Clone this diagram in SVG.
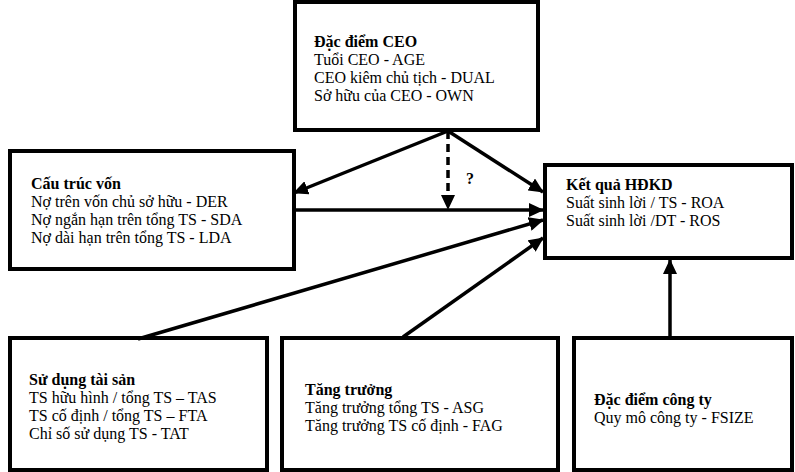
<svg xmlns="http://www.w3.org/2000/svg" width="795" height="472" viewBox="0 0 795 472">
<defs>
<style>
.box{fill:#fff;stroke:#000;stroke-width:4}
.t{font-family:"Liberation Serif","Times New Roman",serif;font-size:16px;fill:#000}
.b{font-weight:bold}
.c{fill:none;stroke:#000;stroke-width:3.5}
.d{stroke-dasharray:8 5}
</style>
<marker id="ah" markerUnits="userSpaceOnUse" markerWidth="15" markerHeight="14" refX="14" refY="7" orient="auto">
<path d="M0,0 L15,7 L0,14 z" fill="#000"/>
</marker>
</defs>
<rect width="795" height="472" fill="#fff"/>
<g id="ceo">
<rect class="box" x="295" y="2" width="243" height="128"/>
<text class="t" x="314" y="47"><tspan class="b">Đặc điểm CEO</tspan><tspan x="314" dy="18">Tuổi CEO - AGE</tspan><tspan x="314" dy="18">CEO kiêm chủ tịch - DUAL</tspan><tspan x="314" dy="18">Sở hữu của CEO - OWN</tspan></text>
</g>
<g id="cautrucvon">
<rect class="box" x="10" y="151" width="284" height="118"/>
<text class="t" x="31" y="189"><tspan class="b">Cấu trúc vốn</tspan><tspan x="31" dy="18">Nợ trên vốn chủ sở hữu - DER</tspan><tspan x="31" dy="18">Nợ ngắn hạn trên tổng TS - SDA</tspan><tspan x="31" dy="18">Nợ dài hạn trên tổng TS - LDA</tspan></text>
</g>
<g id="ketqua">
<rect class="box" x="545" y="165" width="247" height="93"/>
<text class="t" x="566" y="190"><tspan class="b">Kết quả HĐKD</tspan><tspan x="566" dy="18">Suất sinh lời / TS - ROA</tspan><tspan x="566" dy="18">Suất sinh lời /DT - ROS</tspan></text>
</g>
<g id="sudungtaisan">
<rect class="box" x="10" y="338" width="257" height="132"/>
<text class="t" x="29" y="385"><tspan class="b">Sử dụng tài sản</tspan><tspan x="29" dy="18">TS hữu hình / tổng TS – TAS</tspan><tspan x="29" dy="18">TS cố định / tổng TS – FTA</tspan><tspan x="29" dy="18">Chỉ số sử dụng TS - TAT</tspan></text>
</g>
<g id="tangtruong">
<rect class="box" x="282" y="338" width="276" height="132"/>
<text class="t" x="305" y="395"><tspan class="b">Tăng trưởng</tspan><tspan x="305" dy="18">Tăng trưởng tổng TS - ASG</tspan><tspan x="305" dy="18">Tăng trưởng TS cố định - FAG</tspan></text>
</g>
<g id="dacdiemcongty">
<rect class="box" x="574" y="338" width="218" height="132"/>
<text class="t" x="594" y="405"><tspan class="b">Đặc điểm công ty</tspan><tspan x="594" dy="18">Quy mô công ty - FSIZE</tspan></text>
</g>
<g id="connectors">
<path class="c" d="M448,131 L294,193" marker-end="url(#ah)"/>
<path class="c" d="M448,131 L543,192" marker-end="url(#ah)"/>
<path class="c d" d="M448,131 L448,209" marker-end="url(#ah)"/>
<path class="c" d="M294,210 L543,210" marker-end="url(#ah)"/>
<path class="c" d="M138,339 L543,220" marker-end="url(#ah)"/>
<path class="c" d="M403,337 L543,238" marker-end="url(#ah)"/>
<path class="c" d="M670,338 L670,260" marker-end="url(#ah)"/>
<text class="t b" x="466" y="184" font-size="14">?</text>
</g>
</svg>
